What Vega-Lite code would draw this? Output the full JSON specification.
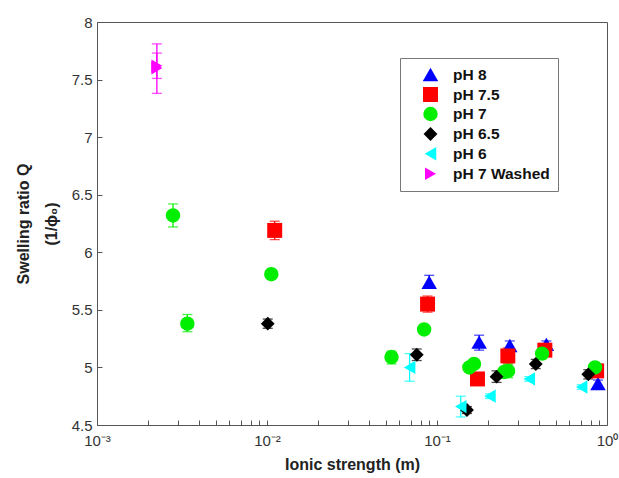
{
  "$schema": "https://vega.github.io/schema/vega-lite/v6.json",
  "width": 510,
  "height": 403,
  "autosize": "none",
  "padding": {"left": 97, "top": 22, "right": 12, "bottom": 53},
  "background": "white",
  "config": {
    "font": "Liberation Sans",
    "view": {"stroke": "#555", "strokeWidth": 1},
    "axis": {"grid": false, "domain": false, "tickColor": "#555", "labelColor": "#333", "labelFontSize": 15, "titleFontSize": 16, "titleFontWeight": "bold", "titleColor": "#222", "tickSize": -5, "labelFont": "Liberation Sans"}
  },
  "data": {"values": [
    {"s": "pH 8", "x": 0.090, "y": 5.74, "lo": 5.70, "hi": 5.80},
    {"s": "pH 8", "x": 0.177, "y": 5.22, "lo": 5.15, "hi": 5.28},
    {"s": "pH 8", "x": 0.268, "y": 5.19, "lo": 5.15, "hi": 5.23},
    {"s": "pH 8", "x": 0.44, "y": 5.20, "lo": 5.17, "hi": 5.23},
    {"s": "pH 8", "x": 0.885, "y": 4.86, "lo": 4.83, "hi": 4.89},
    {"s": "pH 7.5", "x": 0.0111, "y": 6.19, "lo": 6.11, "hi": 6.27},
    {"s": "pH 7.5", "x": 0.088, "y": 5.55, "lo": 5.48, "hi": 5.62},
    {"s": "pH 7.5", "x": 0.173, "y": 4.90, "lo": 4.88, "hi": 4.92},
    {"s": "pH 7.5", "x": 0.261, "y": 5.10, "lo": 5.03, "hi": 5.17},
    {"s": "pH 7.5", "x": 0.431, "y": 5.15, "lo": 5.12, "hi": 5.18},
    {"s": "pH 7.5", "x": 0.869, "y": 4.97, "lo": 4.92, "hi": 5.03},
    {"s": "pH 7", "x": 0.0028, "y": 6.32, "lo": 6.22, "hi": 6.42},
    {"s": "pH 7", "x": 0.0034, "y": 5.38, "lo": 5.31, "hi": 5.46},
    {"s": "pH 7", "x": 0.0106, "y": 5.81, "lo": 5.78, "hi": 5.84},
    {"s": "pH 7", "x": 0.054, "y": 5.09, "lo": 5.03, "hi": 5.14},
    {"s": "pH 7", "x": 0.084, "y": 5.33, "lo": 5.30, "hi": 5.36},
    {"s": "pH 7", "x": 0.155, "y": 5.00, "lo": 4.97, "hi": 5.03},
    {"s": "pH 7", "x": 0.165, "y": 5.03, "lo": 5.00, "hi": 5.06},
    {"s": "pH 7", "x": 0.248, "y": 4.96, "lo": 4.93, "hi": 4.99},
    {"s": "pH 7", "x": 0.262, "y": 4.97, "lo": 4.91, "hi": 5.03},
    {"s": "pH 7", "x": 0.415, "y": 5.12, "lo": 5.09, "hi": 5.15},
    {"s": "pH 7", "x": 0.85, "y": 5.00, "lo": 4.97, "hi": 5.03},
    {"s": "pH 6.5", "x": 0.0101, "y": 5.38, "lo": 5.34, "hi": 5.42},
    {"s": "pH 6.5", "x": 0.076, "y": 5.11, "lo": 5.06, "hi": 5.16},
    {"s": "pH 6.5", "x": 0.15, "y": 4.63, "lo": 4.60, "hi": 4.66},
    {"s": "pH 6.5", "x": 0.224, "y": 4.92, "lo": 4.87, "hi": 4.97},
    {"s": "pH 6.5", "x": 0.381, "y": 5.03, "lo": 4.99, "hi": 5.07},
    {"s": "pH 6.5", "x": 0.776, "y": 4.94, "lo": 4.90, "hi": 4.98},
    {"s": "pH 6", "x": 0.069, "y": 5.00, "lo": 4.88, "hi": 5.12},
    {"s": "pH 6", "x": 0.138, "y": 4.66, "lo": 4.57, "hi": 4.75},
    {"s": "pH 6", "x": 0.205, "y": 4.75, "lo": 4.73, "hi": 4.77},
    {"s": "pH 6", "x": 0.349, "y": 4.90, "lo": 4.88, "hi": 4.92},
    {"s": "pH 6", "x": 0.71, "y": 4.83, "lo": 4.81, "hi": 4.85},
    {"s": "pH 7 Washed", "x": 0.00225, "y": 7.62, "lo": 7.51, "hi": 7.73},
    {"s": "pH 7 Washed", "x": 0.00225, "y": 7.60, "lo": 7.38, "hi": 7.81}
  ]},
  "resolve": {"legend": {"color": "independent", "shape": "independent", "size": "independent"}},
  "layer": [
    {
      "mark": {"type": "errorbar", "ticks": {"size": 10, "thickness": 1.3}, "rule": {"strokeWidth": 1.3}},
      "encoding": {
        "x": {"field": "x", "type": "quantitative", "scale": {"type": "log", "domain": [0.001, 1], "nice": false},
          "axis": {"orient": "bottom", "title": "Ionic strength (m)", "titlePadding": 8,
            "values": [0.001,0.002,0.003,0.004,0.005,0.006,0.007,0.008,0.009,0.01,0.02,0.03,0.04,0.05,0.06,0.07,0.08,0.09,0.1,0.2,0.3,0.4,0.5,0.6,0.7,0.8,0.9,1],
            "labelExpr": "datum.value==0.001?'10⁻³':datum.value==0.01?'10⁻²':datum.value==0.1?'10⁻¹':datum.value==1?'10⁰':''",
            "labelPadding": 13, "labelFlush": false, "labelOverlap": false}},
        "y": {"field": "lo", "type": "quantitative", "scale": {"domain": [4.5, 8], "nice": false, "zero": false},
          "axis": {"orient": "left", "title": ["Swelling ratio Q", "(1/ϕ₀)"], "titlePadding": 12, "titleLineHeight": 28, "values": [4.5,5,5.5,6,6.5,7,7.5,8], "format": "~g", "labelPadding": 10}},
        "y2": {"field": "hi"},
        "color": {"field": "s", "type": "nominal", "legend": null,
          "scale": {"domain": ["pH 8","pH 7.5","pH 7","pH 6.5","pH 6","pH 7 Washed"], "range": ["#0000ff","#ff0000","#00ee00","#000000","#00ffff","#ff00ff"]}}
      }
    },
    {
      "mark": {"type": "point", "filled": true, "opacity": 1},
      "encoding": {
        "x": {"field": "x", "type": "quantitative"},
        "y": {"field": "y", "type": "quantitative"},
        "size": {"field": "s", "type": "nominal", "legend": null,
          "scale": {"domain": ["pH 8","pH 7.5","pH 7","pH 6.5","pH 6","pH 7 Washed"], "range": [240, 160, 180, 180, 240, 240]}},
        "color": {"field": "s", "type": "nominal",
          "legend": {"title": null, "orient": "none", "legendX": 303, "legendY": 36, "strokeColor": "#777", "padding": 8, "labelFontSize": 15.5, "labelFontWeight": "bold", "labelColor": "#111", "symbolSize": 100, "rowPadding": 3, "labelOffset": 14, "symbolOffset": 14, "fillColor": "white"}},
        "shape": {"field": "s", "type": "nominal",
          "scale": {"domain": ["pH 8","pH 7.5","pH 7","pH 6.5","pH 6","pH 7 Washed"], "range": ["triangle-up","square","circle","diamond","triangle-left","triangle-right"]},
          "legend": {"title": null, "orient": "none", "legendX": 303, "legendY": 36}}
      }
    }
  ]
}
